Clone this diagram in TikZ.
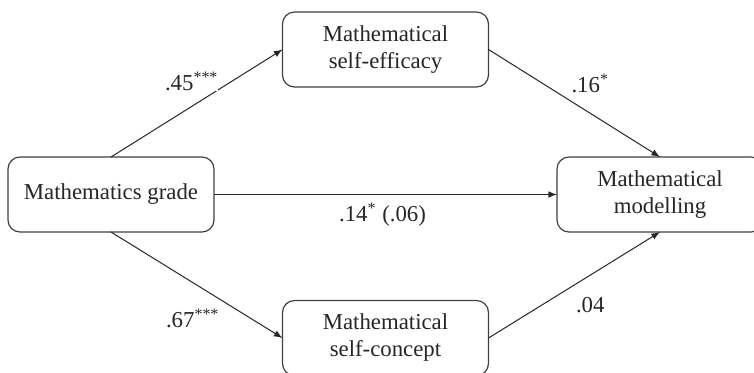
\documentclass[tikz,border=0pt]{standalone}
\usepackage{fontspec}
\setmainfont{Liberation Serif}
\usepackage{tikz}
\usepackage{tkz-graph}
\usetikzlibrary{arrows}

\begin{document}
\begin{tikzpicture}[x=0.5pt,y=-0.5pt]
\useasboundingbox (0,0) rectangle (754,372);
\clip (0,0) rectangle (754,372);
\GraphInit[vstyle=Normal]
\SetVertexNormal[Shape = rectangle, LineWidth = 0.6pt]
\tikzset{VertexStyle/.append style={fill=white, draw=black!75, rounded corners=6pt,
  minimum width=103pt, minimum height=37.5pt, inner sep=2pt, align=center,
  text=black!85, font=\fontsize{11.4}{13.5}\selectfont}}
\Vertex[x=111,y=194.5,L={Mathematics grade}]{G}
\Vertex[x=385.5,y=49.5,L={Mathematical\\self-efficacy}]{E}
\Vertex[x=385.5,y=338,L={Mathematical\\self-concept}]{C}
\Vertex[x=660,y=194.5,L={Mathematical\\modelling}]{M}
\tikzset{EdgeStyle/.style={->, >=latex, line width=0.5pt, draw=black!85}}
\tikzset{LabelStyle/.style={text=black!85, inner sep=0pt, font=\fontsize{11.4}{13.5}\selectfont}}
\Edge[label={.45\textsuperscript{***}}, labelstyle={xshift=-2.5pt, yshift=10.75pt}](G.north)(E.west)
\Edge[label={.67\textsuperscript{***}}, labelstyle={xshift=-2pt, yshift=-16.5pt}](G.south)(C.west)
\Edge[label={.14\textsuperscript{*} (.06)}, labelstyle={xshift=-1.5pt, yshift=-10pt}](G.east)(M.west)
\Edge[label={.16\textsuperscript{*}}, labelstyle={xshift=8pt, yshift=10pt}](E.east)(M.north)
\Edge[label={.04}, labelstyle={xshift=8pt, yshift=-10pt}](C.east)(M.south)
\end{tikzpicture}
\end{document}
